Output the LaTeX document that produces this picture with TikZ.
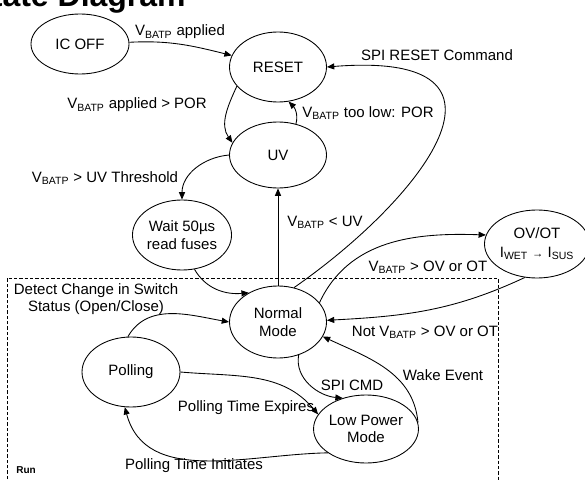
\documentclass[tikz,border=0pt]{standalone}
\usepackage{fontspec}
\setmainfont{Liberation Sans}
\usetikzlibrary{shapes.geometric,arrows.meta}
\newcommand\vbatp{V\textsubscript{BATP}}
\newcommand\isub[1]{I\textsubscript{#1}}
\begin{document}
\begin{tikzpicture}[x=0.75pt,y=0.75pt,
  every node/.style={font=\fontsize{11.25}{13}\selectfont},
  state/.style={draw, ellipse, inner sep=0pt, align=center, line width=0.65pt},
  lbl/.style={inner sep=0pt, align=center},
  arr/.style={draw, line width=0.65pt, -{Triangle[length=5.5pt,width=4.5pt]}},
  runbox/.style={draw, line width=0.65pt, dash pattern=on 2.5pt off 1.5pt},
]
\useasboundingbox (0,0) rectangle (585,-481);

% title (cut at the top)
\node[anchor=base east, inner sep=0pt, font=\fontsize{24}{28}\selectfont\bfseries] (title) at (186,-7) {State Diagram};

% run region
\draw[runbox] (7,-495) |- (498,-278) -- (498,-495);
\node[inner sep=0pt, font=\fontsize{7.5}{9}\selectfont\bfseries] (run) at (26,-470) {Run};
\node[lbl] (detect) at (96,-299) {Detect Change in Switch\\Status (Open/Close)};

% states
\node[state, minimum width=73.5pt, minimum height=45pt] (icoff) at (80,-44) {IC OFF};
\node[state, minimum width=72.75pt, minimum height=52.5pt] (reset) at (278,-67) {RESET};
\node[state, minimum width=72.75pt, minimum height=49.5pt] (uv) at (278,-155) {UV};
\node[state, minimum width=73.5pt, minimum height=52.5pt] (wait) at (182,-235) {Wait 50µs\\read fuses};
\node[state, minimum width=72.75pt, minimum height=54pt] (normal) at (278,-322) {Normal\\Mode};
\node[state, minimum width=72pt, minimum height=51pt] (ovot) at (537,-244) {OV/OT\\[1pt]\isub{WET} {\fontsize{8.5}{9}\selectfont →} \isub{SUS}};
\node[state, minimum width=73.5pt, minimum height=52.5pt] (polling) at (131,-372) {Polling};
\node[state, minimum width=75pt, minimum height=51pt] (lowpower) at (366,-429) {Low Power\\Mode};

% transitions
\draw[arr] (icoff.2) to[out=3, in=166] (reset.166);
\node[lbl] (l1) at (180,-32) {\vbatp{} applied};

\draw[arr] (reset.205) to[out=245, in=125] (uv.165);
\node[lbl] (l2) at (137,-105) {\vbatp{} applied > POR};

\draw[arr] (uv.60) to[out=75, in=-45] (reset.287);
\node[lbl] (l3) at (368,-113) {\vbatp{} too low: POR};

\draw[arr] (uv.west) to[out=185, in=90] (wait.north);
\node[lbl] (l4) at (105,-178) {\vbatp{} > UV Threshold};

\draw[arr] (wait.290) to[out=-60, in=185] (normal.135);

\draw[arr] (normal.north) -- (uv.south);
\node[lbl] (l5) at (325,-222) {\vbatp{} < UV};

\draw[arr] (normal.65) .. controls (420,-200) and (540,-50) .. (reset.east);
\node[lbl] (l6) at (437,-55) {SPI RESET Command};

\draw[arr] (normal.25) to[out=65, in=178] (ovot.170);
\node[lbl] (l7) at (428,-267) {\vbatp{} > OV or OT};

\draw[arr] (ovot.250) to[out=205, in=3] (normal.2);
\node[lbl] (l8) at (425,-332) {Not \vbatp{} > OV or OT};

\draw[arr] (lowpower.7) to[out=95, in=-25] (normal.342);
\node[lbl] (l9) at (443,-375) {Wake Event};

\draw[arr] (normal.302) to[out=260, in=175] (lowpower.127);
\node[lbl] (l10) at (352,-385) {SPI CMD};

\draw[arr] (polling.95) to[out=60, in=170] (normal.west);

\draw[arr] (polling.0) to[out=-5, in=130] (lowpower.163);
\node[lbl] (l11) at (246,-408) {Polling Time Expires};

\draw[arr] (lowpower.212) to[out=181, in=-75] (polling.260);
\node[lbl] (l12) at (194,-466) {Polling Time Initiates};
\end{tikzpicture}
\end{document}
